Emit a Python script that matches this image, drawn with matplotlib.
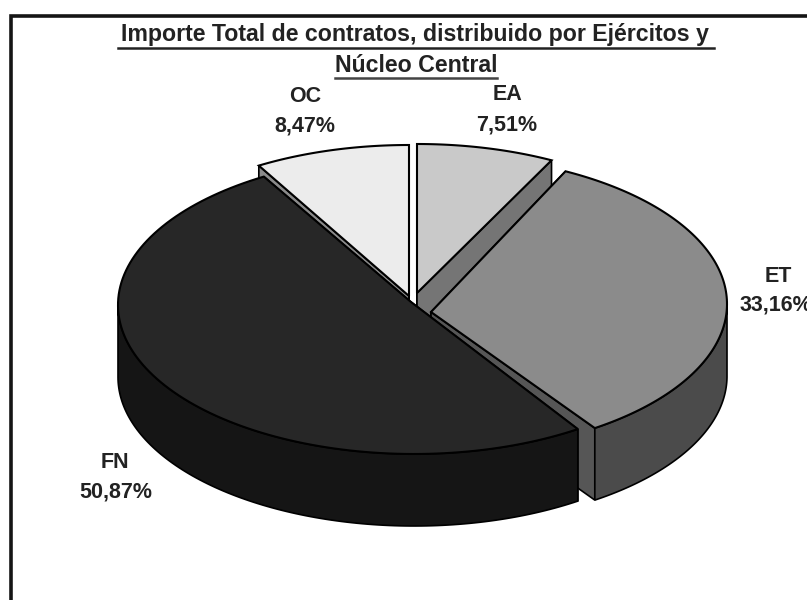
import numpy as np
import matplotlib
matplotlib.use("Agg")
import matplotlib.pyplot as plt
from matplotlib.patches import Polygon

# data, clockwise from 12 o'clock
names = ["EA", "ET", "FN", "OC"]
shares = [7.51, 33.16, 50.87, 8.47]
share_labels = ["7,51%", "33,16%", "50,87%", "8,47%"]
title_lines = ["Importe Total de contratos, distribuido por Ejércitos y", "Núcleo Central"]

# styling per slice
top_colors = ["#c9c9c9", "#8b8b8b", "#272727", "#ececec"]
wall_colors = ["#757575", "#4b4b4b", "#151515", "#8a8a8a"]
face_colors = ["#757575", "#565656", "#1c1c1c", "#8a8a8a"]
centers = [(417, 293), (431, 304), (414, 305), (409, 294)]
apexes = [(417, 293), (431, 312), (411, 302), (409, 296)]
name_pos = [(507, 95), (778, 276), (115, 462), (305, 96)]
share_pos = [(507, 125), (776, 305), (116, 492), (305, 126)]
RX, RY, DEPTH = 296, 149, 72

plt.rcParams["font.family"] = ["Liberation Sans", "DejaVu Sans"]

fig = plt.figure(figsize=(8.07, 6), dpi=100)
ax = fig.add_axes([0, 0, 1, 1])
ax.set_xlim(0, 807)
ax.set_ylim(600, 0)
ax.axis("off")

# chart frame, runs off the right and bottom of the scan
ax.plot([11, 11, 807], [600, 15.5, 15.5], color="#151515", lw=2.6, solid_joinstyle="miter")


def arc(center, start, stop):
    t = np.radians(np.linspace(start, stop, 120))
    return np.column_stack([center[0] + RX * np.sin(t), center[1] - RY * np.cos(t)])


def draw_slice(i, start, stop):
    center, apex = centers[i], apexes[i]
    edge = arc(center, start, stop)
    # radial faces first, then curved wall, then the top
    for corner in (edge[0], edge[-1]):
        face = [apex, corner, corner + [0, DEPTH], np.add(apex, [0, DEPTH])]
        ax.add_patch(Polygon(face, closed=True, fc=face_colors[i], ec="black", lw=1.2))
    wall_start, wall_stop = max(start, 90), min(stop, 270)
    if wall_stop > wall_start:
        rim = arc(center, wall_start, wall_stop)
        ax.add_patch(Polygon(np.vstack([rim, rim[::-1] + [0, DEPTH]]), closed=True,
                             fc=wall_colors[i], ec="black", lw=1.2))
    ax.add_patch(Polygon(np.vstack([[apex], edge]), closed=True, fc=top_colors[i], ec="black", lw=1.5))


stops = np.cumsum(shares) / np.sum(shares) * 360
starts = np.concatenate([[0], stops[:-1]])
for i in [0, 3, 1, 2]:  # back slices first
    draw_slice(i, starts[i], stops[i])

# title with underlines
ax.text(415, 35, title_lines[0], ha="center", va="center", fontsize=16.7, fontweight="bold", color="#222222")
ax.text(416, 65, title_lines[1], ha="center", va="center", fontsize=16.7, fontweight="bold", color="#222222")
ax.plot([118, 714], [48, 48], color="#222222", lw=1.8)
ax.plot([335, 497], [78, 78], color="#444444", lw=1.8)

for i in range(len(names)):
    ax.text(*name_pos[i], names[i], ha="center", va="center", fontsize=15.5, fontweight="bold", color="#222222")
    ax.text(*share_pos[i], share_labels[i], ha="center", va="center", fontsize=15.5, fontweight="bold", color="#222222")

fig.savefig("out.png", dpi=100, facecolor="white")
